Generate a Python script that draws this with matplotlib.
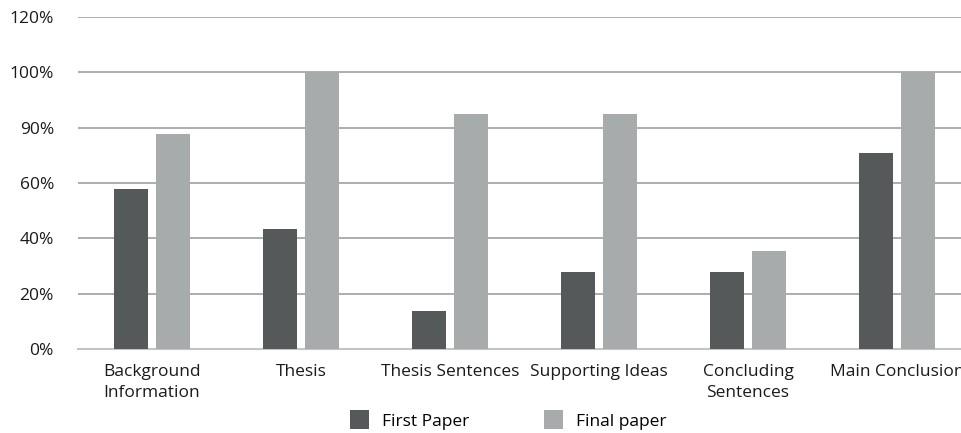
import numpy as np
import matplotlib.pyplot as plt

categories = ["Background\nInformation", "Thesis", "Thesis Sentences",
              "Supporting Ideas", "Concluding\nSentences", "Main Conclusion"]
first_paper = [57.9, 43.4, 13.7, 27.8, 27.8, 70.9]
final_paper = [77.8, 100, 85, 85, 35.4, 100]
tick_vals = [0, 20, 40, 60, 80, 100, 120]
tick_labels = ["0%", "20%", "40%", "60%", "90%", "100%", "120%"]

plt.rcParams['font.family'] = ['Open Sans', 'DejaVu Sans']

fig = plt.figure(figsize=(9.61, 4.33), dpi=100)
ax = fig.add_axes([77.5 / 961, 1 - 349 / 433, 894 / 961, 332 / 433])

x = np.arange(len(categories))
w = 0.228
off = 0.141
ax.bar(x - off, first_paper, w, color="#555959", label="First Paper", zorder=3)
ax.bar(x + off, final_paper, w, color="#a8abab", label="Final paper", zorder=3)

ax.set_xlim(-0.5, len(categories) - 0.5)
ax.set_ylim(0, 120)
ax.set_yticks(tick_vals)
ax.set_yticklabels(tick_labels, fontsize=12.5, color="#1a1a1a")
ax.set_xticks(x)
ax.set_xticklabels(categories, fontsize=12.5, color="#1a1a1a", linespacing=1.4)
ax.tick_params(axis="both", length=0)
ax.tick_params(axis="y", pad=17)
ax.tick_params(axis="x", pad=11)

ax.yaxis.grid(True, color="#a0a0a0", linewidth=1.2, zorder=0)
for s in ["top", "right", "left"]:
    ax.spines[s].set_visible(False)
ax.spines["bottom"].set_color("#c4c4c4")
ax.spines["bottom"].set_linewidth(1.5)

fig.legend(loc="center", bbox_to_anchor=(508 / 961, 1 - 420 / 433), ncol=2,
           frameon=False, fontsize=12.5, handlelength=1.1, handleheight=1.25,
           columnspacing=4.3, handletextpad=0.75)

fig.savefig("out.png", dpi=100)
